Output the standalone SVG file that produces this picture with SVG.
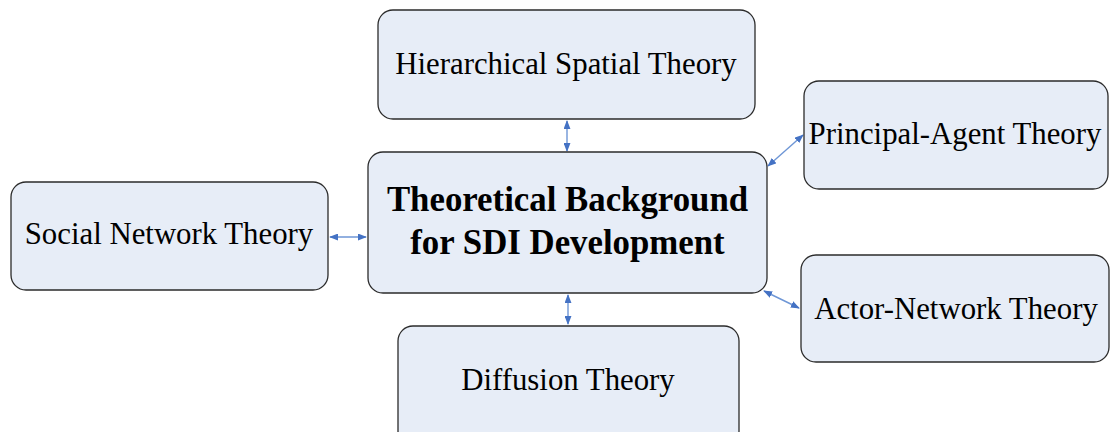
<svg xmlns="http://www.w3.org/2000/svg" width="1110" height="432" viewBox="0 0 1110 432">
<style>
.box{fill:#E7EDF7;stroke:#2b2b2b;stroke-width:1.3}
.t{font-family:"Liberation Serif","Times New Roman",serif;font-size:30.8px;fill:#000;text-anchor:middle}
.b{font-weight:bold;font-size:34.8px}
.c{stroke:#6E96D6;stroke-width:1.4;fill:none;marker-start:url(#ah);marker-end:url(#ah)}
</style>
<defs>
<marker id="ah" viewBox="0 0 10 10" refX="9" refY="5" markerWidth="9" markerHeight="7" markerUnits="userSpaceOnUse" orient="auto-start-reverse" preserveAspectRatio="none">
<path d="M0,0 L10,5 L0,10 z" fill="#4472C4"/>
</marker>
</defs>
<g id="connectors">
<line class="c" x1="567" y1="121" x2="567" y2="151"/>
<line class="c" x1="568" y1="295" x2="568" y2="324"/>
<line class="c" x1="330" y1="237" x2="366" y2="237"/>
<line class="c" x1="768" y1="166" x2="803" y2="135"/>
<line class="c" x1="764" y1="291" x2="799" y2="308"/>
</g>
<g id="center">
<rect class="box" x="368" y="152" width="399" height="141" rx="15"/>
<text class="t b" x="567.5" y="211">Theoretical Background</text>
<text class="t b" x="567.5" y="254">for SDI Development</text>
</g>
<g id="hierarchical">
<rect class="box" x="378" y="10" width="377" height="109" rx="15"/>
<text class="t" x="566" y="74">Hierarchical Spatial Theory</text>
</g>
<g id="social">
<rect class="box" x="11" y="182" width="317" height="108" rx="15"/>
<text class="t" x="169" y="244">Social Network Theory</text>
</g>
<g id="principal">
<rect class="box" x="804" y="81" width="304" height="108" rx="15"/>
<text class="t" x="955" y="144">Principal-Agent Theory</text>
</g>
<g id="actor">
<rect class="box" x="801" y="255" width="308" height="107" rx="15"/>
<text class="t" x="956" y="319">Actor-Network Theory</text>
</g>
<g id="diffusion">
<rect class="box" x="398" y="326" width="341" height="120" rx="15"/>
<text class="t" x="568" y="390">Diffusion Theory</text>
</g>
</svg>
